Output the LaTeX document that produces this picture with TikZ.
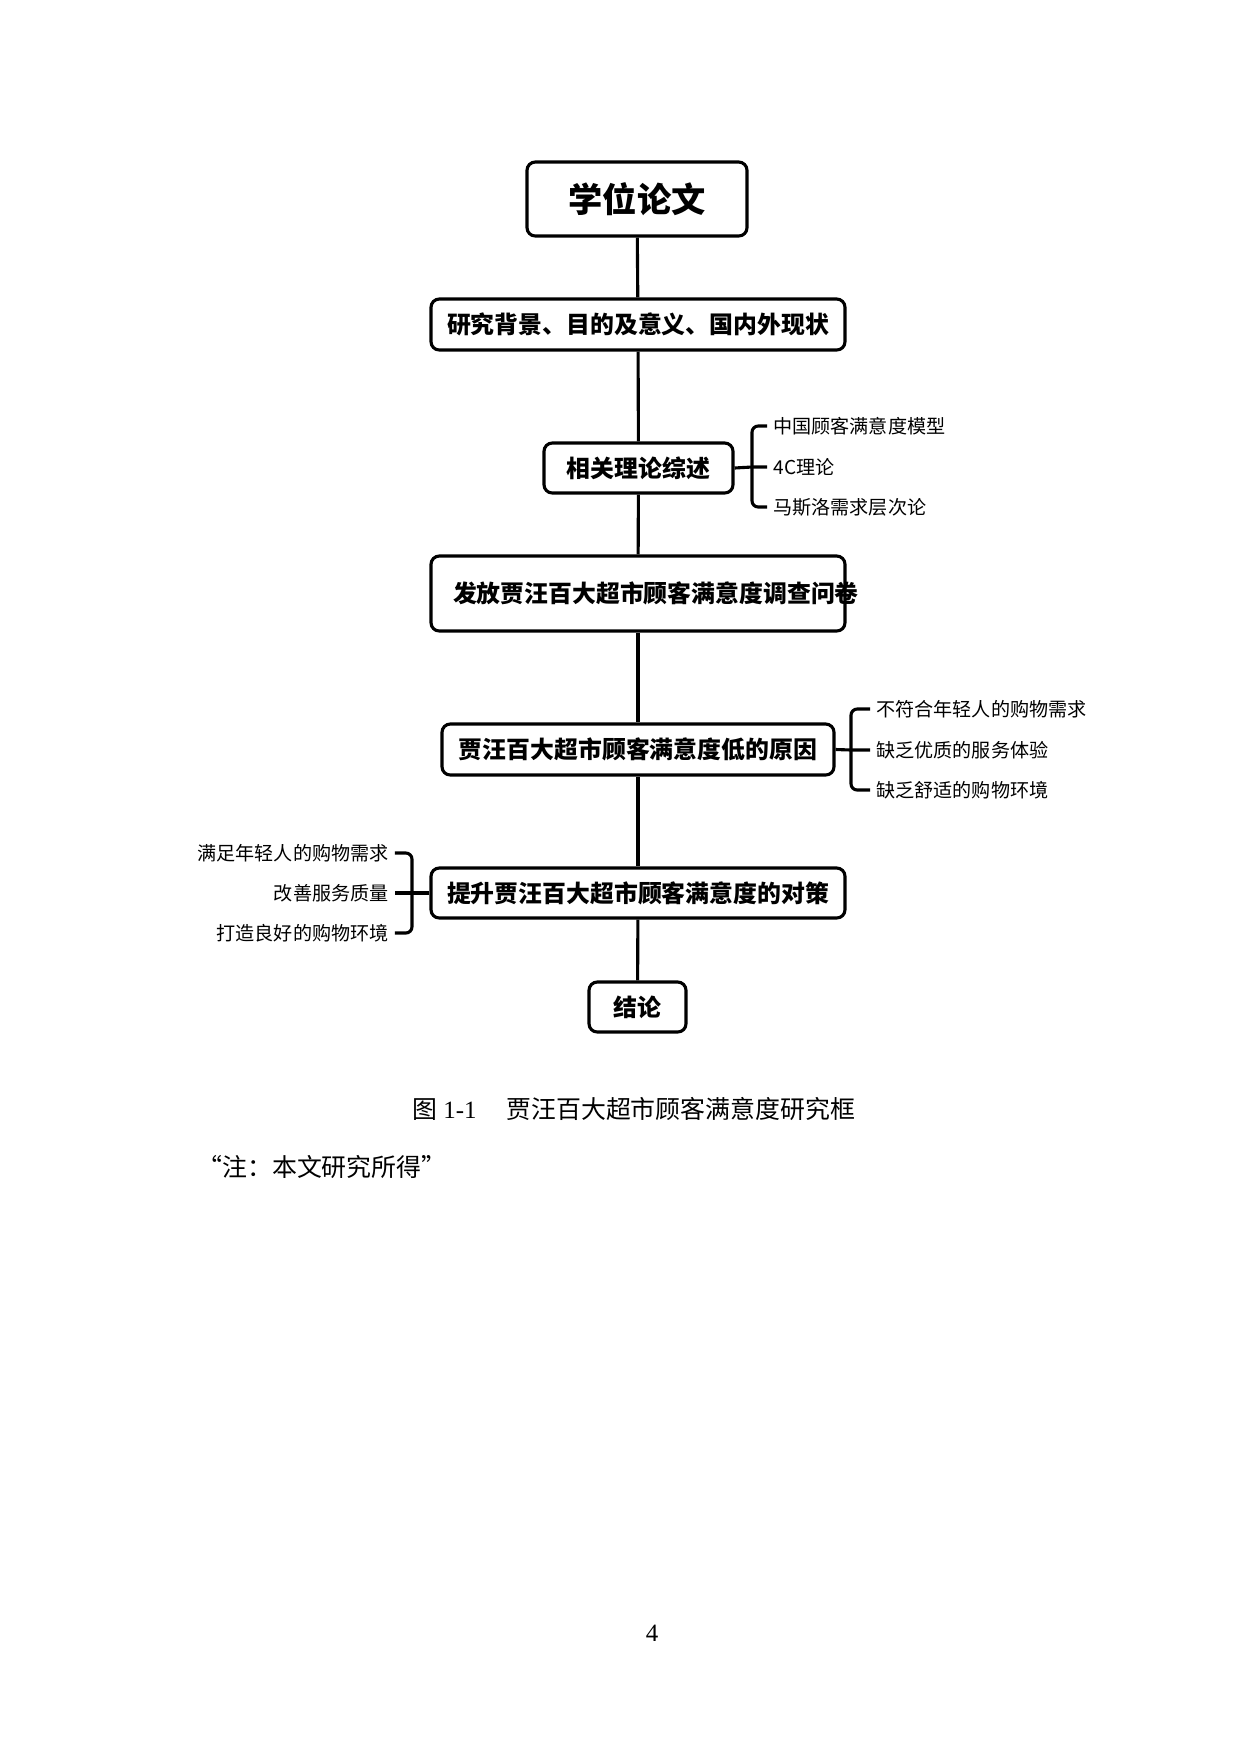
\documentclass[tikz,border=0pt]{standalone}
\usepackage{fontspec}
\setmainfont{Liberation Serif}
\newfontfamily\cjk{Noto Sans CJK SC}
\begin{document}
\begin{tikzpicture}[x=0.1693mm,y=-0.1693mm,
  box/.style={draw,line width=1.5pt,rounded corners=4pt,inner sep=0pt,font=\cjk\bfseries\fontsize{11.5}{15}\selectfont},
  sz/.style n args={2}{minimum width={#1*0.1693mm},minimum height={#2*0.1693mm}},
  lab/.style={font=\cjk\fontsize{9.2}{11}\selectfont,inner sep=0pt},
  ln/.style={line width=1.5pt},
  br/.style={line width=1.5pt,rounded corners=3pt}]
\useasboundingbox (0,0) rectangle (1240,1754);
\node[box,sz={220}{74},font=\cjk\bfseries\fontsize{16.5}{20}\selectfont] (t) at (637,199) {学位论文};
\node[box,sz={414}{51}] (b2) at (638,324.5) {研究背景、目的及意义、国内外现状};
\node[box,sz={189}{50}] (b3) at (638.5,468) {相关理论综述};
\node[box,sz={414}{75},text width={370*0.1693mm},align=left] (b4) at (638,593.5) {发放贾汪百大超市顾客满意度调查问卷};
\node[box,sz={392}{51}] (b5) at (638,749.5) {贾汪百大超市顾客满意度低的原因};
\node[box,sz={414}{50}] (b6) at (638,893) {提升贾汪百大超市顾客满意度的对策};
\node[box,sz={97}{50}] (b7) at (637.5,1007) {结论};
\draw[ln] (t) -- (b2); \draw[ln] (b2) -- (b3); \draw[ln] (b3) -- (b4);
\draw[ln] (b4) -- (b5); \draw[ln] (b5) -- (b6); \draw[ln] (b6) -- (b7);
% theory bracket
\node[lab,anchor=west] (l1) at (773,426) {中国顾客满意度模型};
\node[lab,anchor=west] (l2) at (773,467) {4C理论};
\node[lab,anchor=west] (l3) at (773,507) {马斯洛需求层次论};
\coordinate (c1) at (752,467);
\draw[ln] (b3.east) -- (c1) -- ([xshift=-1mm]l2.west);
\draw[br] ([xshift=-1mm]l1.west) -- (c1 |- l1.west) -- (c1 |- l3.west) -- ([xshift=-1mm]l3.west);
% reasons bracket
\node[lab,anchor=west] (r1) at (876,709) {不符合年轻人的购物需求};
\node[lab,anchor=west] (r2) at (876,750) {缺乏优质的服务体验};
\node[lab,anchor=west] (r3) at (876,790) {缺乏舒适的购物环境};
\coordinate (c2) at (851,750);
\draw[ln] (b5.east) -- (c2) -- ([xshift=-1mm]r2.west);
\draw[br] ([xshift=-1mm]r1.west) -- (c2 |- r1.west) -- (c2 |- r3.west) -- ([xshift=-1mm]r3.west);
% measures bracket
\node[lab,anchor=east] (m1) at (389,853) {满足年轻人的购物需求};
\node[lab,anchor=east] (m2) at (389,893) {改善服务质量};
\node[lab,anchor=east] (m3) at (389,933) {打造良好的购物环境};
\coordinate (c3) at (412,893);
\draw[ln] (b6.west) -- (c3) -- ([xshift=1mm]m2.east);
\draw[br] ([xshift=1mm]m1.east) -- (c3 |- m1.east) -- (c3 |- m3.east) -- ([xshift=1mm]m3.east);
% caption
\node[font=\cjk\fontsize{12}{14}\selectfont,inner sep=0pt] (cap) at (634,1109) {图 {\rmfamily 1-1}\hspace{1.2em}贾汪百大超市顾客满意度研究框};
\node[font=\cjk\fontsize{12}{14}\selectfont,inner sep=0pt,anchor=west] (note) at (197,1167) {“注：本文研究所得”};
\node[font=\fontsize{12}{14}\selectfont,inner sep=0pt] (pg) at (652,1633) {4};
\end{tikzpicture}
\end{document}
